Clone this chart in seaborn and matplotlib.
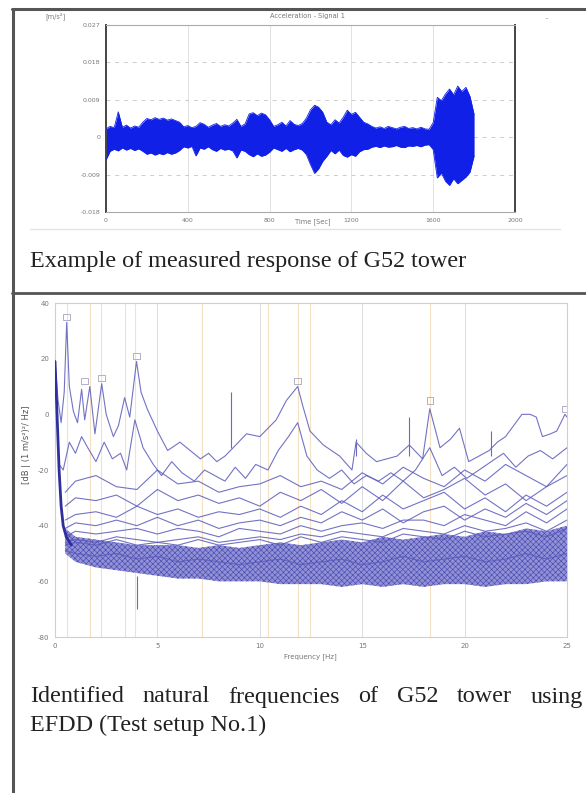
import numpy as np
import pandas as pd
import matplotlib
matplotlib.use('Agg')
import matplotlib.pyplot as plt
import seaborn as sns
from matplotlib.lines import Line2D

# --- top panel: acceleration record, read as an envelope (time in s, value in 1e-3 m/s2)
sig_t = list(range(0, 1820, 20))
sig_hi = [2.0, 2.6, 2.3, 6.1, 2.4, 2.9, 2.2, 2.7, 2.4, 3.6,
          4.5, 4.2, 4.7, 4.3, 4.6, 4.1, 4.4, 4.0, 3.6, 2.5,
          2.8, 2.3, 2.6, 3.5, 3.1, 2.4, 2.9, 3.3, 2.6, 3.0,
          2.7, 3.4, 4.3, 2.6, 3.2, 5.6, 5.9, 5.2, 5.8, 5.4,
          4.2, 2.6, 3.0, 3.6, 2.7, 4.0, 3.1, 2.8, 3.3, 4.6,
          6.6, 7.7, 7.2, 6.0, 3.6, 3.0, 4.2, 3.4, 4.8, 6.5,
          5.5, 6.0, 4.8, 3.6, 3.2, 2.6, 2.2, 2.5, 2.1, 2.6,
          2.3, 2.0, 2.4, 2.6, 2.1, 2.3, 2.0, 2.4, 2.0, 1.9,
          3.5, 9.6, 8.8, 10.4, 11.6, 10.2, 12.3, 11.0, 12.0, 9.8,
          5.5]
sig_lo = [-5.5, -3.4, -2.9, -3.3, -2.6, -3.1, -2.7, -3.2, -2.8, -3.4,
          -4.1, -3.8, -4.3, -3.9, -4.2, -3.7, -4.1, -3.8, -3.2, -2.3,
          -2.6, -2.2, -4.5, -2.6, -2.9, -2.3, -3.0, -3.4, -2.7, -3.1,
          -2.9, -3.3, -5.0, -3.1, -3.4, -4.2, -4.7, -4.0, -4.6, -4.3,
          -3.6, -2.6, -3.0, -3.4, -2.7, -3.5, -3.0, -2.7, -3.1, -4.2,
          -6.6, -8.7, -7.6, -5.8, -4.6, -3.2, -4.0, -3.1, -4.4, -4.8,
          -4.2, -4.6, -3.5, -3.0, -2.9, -2.4, -2.2, -2.5, -2.1, -2.4,
          -2.3, -2.0, -2.4, -2.5, -2.1, -2.2, -2.0, -2.3, -1.9, -1.8,
          -3.0, -9.8, -8.6, -10.6, -11.6, -10.0, -11.2, -10.4, -9.6, -8.4,
          -4.5]
time_ticks = [0, 400, 800, 1200, 1600, 2000]
acc_ticks = [-0.018, -0.009, 0, 0.009, 0.018, 0.027]
acc_labels = ['-0.018', '-0.009', '0', '0.009', '0.018', '0.027']

# --- bottom panel: EFDD singular value spectra (Hz, dB)
sv1_f = [0.0, 0.15, 0.3, 0.45, 0.57, 0.7, 0.9, 1.1, 1.3, 1.45, 1.7, 1.95, 2.28, 2.5, 2.85, 3.1, 3.4, 3.65, 3.98, 4.2,
         4.5, 5.0, 5.5, 6.1, 6.6, 7.1, 7.5, 7.9, 8.3, 8.7, 9.35, 10.0, 10.4, 10.8, 11.3, 11.85, 12.1, 12.45, 13.1, 13.5,
         13.9, 14.5, 14.7, 15.2, 15.7, 16.2, 16.7, 17.3, 17.95, 18.3, 18.8, 19.3, 19.75, 20.2, 20.7, 21.2, 21.6, 22.0, 22.4, 22.8,
         23.2, 23.5, 23.8, 24.2, 24.5, 24.9, 25.0]
sv1_db = [19, 5, -3, 8, 33, 10, 1, -3, 9, -2, 10, -7, 11, 0, -8, -4, 6, -1, 19, 8,
          2, -6, -13, -10, -13, -16, -14, -17, -15, -12, -7, -8, -5, -2, 5, 10, 3, -6, -11, -13,
          -15, -20, -10, -14, -17, -16, -15, -11, -16, 2, -12, -9, -5, -17, -15, -13, -10, -8, -4, 0,
          0, -1, -8, -7, -6, 0, -1]
sv2_f = [0.2, 0.4, 0.7, 1.0, 1.3, 1.6, 2.0, 2.4, 2.8, 3.2, 3.5, 3.9, 4.3, 4.8, 5.2, 5.7, 6.2, 6.8, 7.3,
         7.8, 8.3, 8.8, 9.3, 9.8, 10.4, 10.9, 11.4, 11.85, 12.3, 12.8, 13.4, 14.0, 14.6, 15.2, 15.8, 16.4, 17.0, 17.6, 18.3,
         18.9, 19.5, 20.1, 20.7, 21.3, 21.9, 22.5, 23.1, 23.7, 24.3, 25.0]
sv2_db = [-18, -20, -10, -14, -8, -12, -17, -10, -16, -14, -20, -2, -12, -18, -22, -17, -21, -24, -20,
          -22, -24, -19, -23, -18, -20, -13, -8, -3, -15, -20, -23, -20, -25, -22, -24, -21, -24, -20, -12,
          -22, -19, -23, -20, -17, -14, -19, -15, -13, -16, -12]
low_f = [0.5, 1, 2, 3, 4, 5, 6, 7, 8, 9, 10, 11, 12, 13, 14, 15, 16, 17, 18, 19, 20, 21, 22, 23, 24, 25]
sv3_db = [-28, -24, -22, -26, -27, -20, -25, -24, -28, -26, -25, -22, -26, -24, -27, -21, -25, -19, -23, -26, -20, -24, -18, -22, -26, -18]
sv4_db = [-33, -30, -31, -29, -33, -27, -31, -29, -32, -30, -33, -28, -31, -27, -32, -26, -31, -24, -30, -27, -23, -29, -25, -31, -26, -22]
sv5_db = [-38, -36, -35, -37, -33, -36, -34, -37, -35, -36, -34, -37, -33, -36, -31, -35, -29, -34, -31, -28, -34, -30, -35, -29, -33, -28]
sv6_db = [-41, -39, -40, -38, -40, -37, -40, -38, -41, -39, -38, -40, -37, -39, -35, -38, -34, -39, -35, -33, -38, -34, -37, -32, -36, -31]
sv7_db = [-44, -42, -43, -42, -41, -43, -41, -42, -44, -41, -42, -43, -40, -42, -40, -39, -41, -38, -38, -40, -36, -38, -40, -35, -39, -34]
sv8_db = [-46, -45, -46, -44, -45, -46, -45, -44, -46, -45, -44, -45, -43, -44, -42, -43, -44, -41, -42, -43, -40, -42, -41, -39, -42, -38]
sv9_db = [-47, -46, -47, -45, -47, -46, -47, -45, -47, -46, -45, -47, -44, -46, -44, -45, -46, -43, -44, -45, -42, -44, -43, -42, -44, -41]
sv10_db = [-49, -50, -51, -50, -52, -51, -53, -52, -53, -54, -53, -52, -54, -53, -52, -54, -53, -51, -53, -52, -51, -53, -52, -50, -52, -50]
band_top = [-41, -44, -45, -46, -47, -47, -47, -48, -47, -48, -47, -46, -47, -46, -45, -46, -44, -45, -44, -43, -44, -42, -43, -41, -42, -40]
band_bot = [-50, -53, -55, -56, -57, -58, -59, -59, -60, -60, -60, -61, -61, -61, -62, -61, -62, -61, -62, -61, -61, -62, -61, -61, -60, -60]
sweep_f = [0, 0.05, 0.1, 0.15, 0.2, 0.3, 0.4, 0.55, 0.8]
sweep_db = [19, 10, 0, -10, -20, -33, -40, -44, -47]
spike_f = [8.6, 14.7, 17.3, 21.3, 4.0]
spike_top = [8, -9, -1, -6, -58]
spike_base = [-12, -15, -15, -15, -70]
pick_f = [0.57, 1.7, 2.25, 3.4, 3.9, 7.2, 10.4, 11.85, 12.45, 18.3]
mark_f = [0.57, 1.45, 2.28, 3.98, 11.85, 18.3, 24.9]
mark_db = [35, 12, 13, 21, 12, 5, 2]
freq_ticks = [0, 5, 10, 15, 20, 25]
db_ticks = [-80, -60, -40, -20, 0, 20, 40]

caption1 = 'Example of measured response of G52 tower'
caption2a = 'Identified natural frequencies of G52 tower using'
caption2b = 'EFDD (Test setup No.1)'

sns.set_style('white')
plt.rcParams['font.family'] = ['DejaVu Sans']
plt.rcParams['axes.unicode_minus'] = False
plt.rcParams['hatch.linewidth'] = 0.45

W, H = 586, 793
fig = plt.figure(figsize=(W / 100, H / 100), dpi=100)

# table rules
fig.add_artist(Line2D([13 / W, 13 / W], [0, 1 - 9 / H], color='#555555', lw=2.2))
fig.add_artist(Line2D([12 / W, 1], [1 - 9 / H, 1 - 9 / H], color='#555555', lw=2.2))
fig.add_artist(Line2D([12 / W, 1], [1 - 293 / H, 1 - 293 / H], color='#555555', lw=2.0))
fig.add_artist(Line2D([30 / W, 560 / W], [1 - 229 / H, 1 - 229 / H], color='#e4e4e4', lw=1.0))

# ---------- top panel
ax1 = fig.add_axes([106 / W, 1 - 212 / H, 409 / W, 187 / H])
sig = pd.DataFrame({'t': sig_t, 'hi': np.array(sig_hi) / 1000, 'lo': np.array(sig_lo) / 1000})
for x in time_ticks[1:-1]:
    ax1.axvline(x, color='#e2e2e2', lw=0.7, zorder=0)
for y in acc_ticks[1:-1]:
    ax1.axhline(y, color='#cccccc', lw=0.7, ls=(0, (4, 5)), zorder=0)
ax1.fill_between(sig.t, sig.lo, sig.hi, color='#1020e6', lw=0, zorder=2)
sns.lineplot(data=sig, x='t', y='hi', ax=ax1, color='#1020e6', lw=0.6, zorder=3)
sns.lineplot(data=sig, x='t', y='lo', ax=ax1, color='#1020e6', lw=0.6, zorder=3)
ax1.set_xlim(0, 2000)
ax1.set_ylim(-0.018, 0.027)
ax1.set_xticks(time_ticks)
ax1.set_yticks(acc_ticks)
ax1.set_yticklabels(acc_labels)
ax1.set_xlabel('')
ax1.set_ylabel('')
ax1.tick_params(labelsize=4.5, colors='#777777', length=2, pad=2)
for s in ['left', 'right']:
    ax1.spines[s].set_color('#444444')
    ax1.spines[s].set_linewidth(1.4)
for s in ['top', 'bottom']:
    ax1.spines[s].set_color('#aaaaaa')
    ax1.spines[s].set_linewidth(0.8)
fig.text(307 / W, 1 - 16 / H, 'Acceleration - Signal 1', fontsize=4.8, color='#777777', ha='center', va='center')
fig.text(45 / W, 1 - 16 / H, '[m/s\u00b2]', fontsize=4.8, color='#777777', ha='left', va='center')
fig.text(547 / W, 1 - 18 / H, '--', fontsize=4.8, color='#aaaaaa', ha='center', va='center')
fig.text(313 / W, 1 - 222 / H, 'Time [Sec]', fontsize=4.8, color='#777777', ha='center', va='center')

cap_kw = dict(fontsize=17.4, family='Liberation Serif', color='#222222', va='center')
fig.text(30 / W, 1 - 262 / H, caption1, ha='left', **cap_kw)

# ---------- bottom panel
ax2 = fig.add_axes([55 / W, 1 - 637 / H, 512 / W, 334 / H])
for x in freq_ticks[1:]:
    ax2.axvline(x, color='#dcdcdc', lw=0.7, zorder=0)
for x in pick_f:
    ax2.axvline(x, color='#f5e2c4', lw=0.8, zorder=0)

ax2.fill_between(low_f, band_bot, band_top, facecolor='#8585d4', edgecolor='#4444aa',
                 hatch='xxxxxx', lw=0, alpha=0.9, zorder=2)

rows = []
for name, fx, db in [('sv1', sv1_f, sv1_db), ('sv2', sv2_f, sv2_db),
                     ('sv3', low_f, sv3_db), ('sv4', low_f, sv4_db), ('sv5', low_f, sv5_db),
                     ('sv6', low_f, sv6_db), ('sv7', low_f, sv7_db), ('sv8', low_f, sv8_db),
                     ('sv9', low_f, sv9_db), ('sv10', low_f, sv10_db)]:
    rows.append(pd.DataFrame({'freq': fx, 'db': db, 'curve': name}))
spec = pd.concat(rows, ignore_index=True)
sns.lineplot(data=spec, x='freq', y='db', units='curve', estimator=None, ax=ax2,
             color='#5a5abb', lw=0.8, alpha=0.85, zorder=3)
sweep = pd.DataFrame({'freq': sweep_f, 'db': sweep_db})
sns.lineplot(data=sweep, x='freq', y='db', ax=ax2, color='#2e2e9e', lw=2.0, zorder=4)
ax2.vlines(spike_f, spike_base, spike_top, color='#6a6ac0', lw=0.8, zorder=3)
marks = pd.DataFrame({'freq': mark_f, 'db': mark_db})
sns.scatterplot(data=marks, x='freq', y='db', ax=ax2, marker='s', s=22,
                facecolor='none', edgecolor='#b0b0c8', linewidth=0.7, zorder=5)

ax2.set_xlim(0, 25)
ax2.set_ylim(-80, 40)
ax2.set_xticks(freq_ticks)
ax2.set_yticks(db_ticks)
ax2.set_xlabel('')
ax2.set_ylabel('')
ax2.tick_params(labelsize=5, colors='#777777', length=2, pad=2)
for s in ax2.spines.values():
    s.set_color('#cfcfcf')
    s.set_linewidth(0.8)
fig.text(27 / W, 1 - 445 / H, '[dB | (1 m/s\u00b2)\u00b2/ Hz]', fontsize=6, color='#555555',
         rotation=90, ha='center', va='center')
fig.text(310 / W, 1 - 657 / H, 'Frequency [Hz]', fontsize=5, color='#777777', ha='center', va='center')

# justified first line of the second caption (30 px .. 583 px)
renderer = fig.canvas.get_renderer()
words = caption2a.split()
word_txt = [fig.text(0, 1 - 697 / H, w, ha='left', **cap_kw) for w in words]
widths = [t.get_window_extent(renderer).width for t in word_txt]
gap = (583 - 30 - sum(widths)) / (len(words) - 1)
x = 30.0
for t, w in zip(word_txt, widths):
    t.set_x(x / W)
    x += w + gap
fig.text(30 / W, 1 - 725 / H, caption2b, ha='left', **cap_kw)

fig.savefig('out.png', dpi=100)
